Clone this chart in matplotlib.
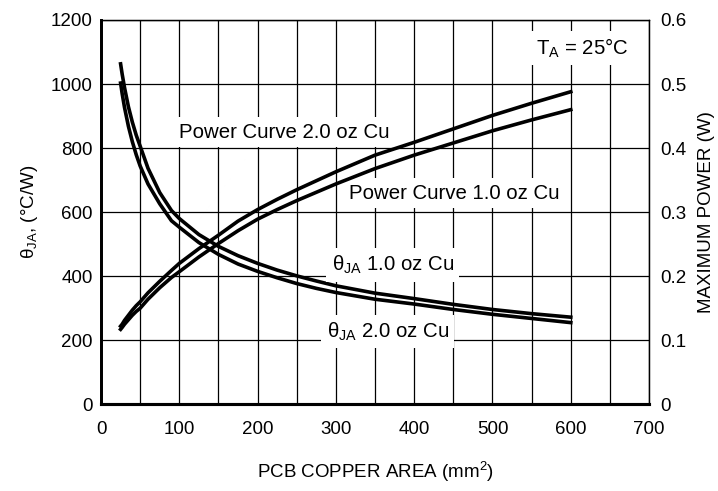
import matplotlib
matplotlib.use("Agg")
from matplotlib import pyplot as plt
import numpy as np

plt.rcParams['font.family'] = ['Liberation Sans', 'DejaVu Sans']
plt.rcParams['mathtext.fontset'] = 'custom'
plt.rcParams['mathtext.rm'] = 'Liberation Sans'

# copper area, mm^2
area = [25, 27, 30, 35, 40, 45, 50, 60, 75, 90, 100, 125, 150, 175, 200, 225, 250, 275, 300, 350, 400, 450, 500, 550, 600]
# thermal resistance, C/W
theta_1oz = [1063, 1031, 989, 929, 881, 840, 806, 737, 661, 605, 580, 530, 493, 464, 440, 419, 401, 385, 370, 347, 330, 312, 296, 283, 272]
theta_2oz = [1003, 970, 927, 868, 820, 779, 744, 688, 626, 573, 553, 505, 468, 438, 415, 395, 377, 362, 349, 328, 313, 296, 281, 268, 255]
# max power, W
power_1oz = [0.117, 0.120, 0.125, 0.132, 0.139, 0.145, 0.150, 0.164, 0.182, 0.198, 0.207, 0.230, 0.251, 0.271, 0.289, 0.304, 0.318, 0.331, 0.344, 0.368, 0.389, 0.408, 0.427, 0.444, 0.460]
power_2oz = [0.122, 0.125, 0.131, 0.139, 0.147, 0.154, 0.160, 0.174, 0.192, 0.209, 0.220, 0.243, 0.264, 0.286, 0.304, 0.320, 0.335, 0.349, 0.363, 0.389, 0.409, 0.430, 0.451, 0.470, 0.488]

x_ticks = [0, 100, 200, 300, 400, 500, 600, 700]
left_ticks = [0, 200, 400, 600, 800, 1000, 1200]
right_ticks = [0, 0.1, 0.2, 0.3, 0.4, 0.5, 0.6]
right_labels = ["0", "0.1", "0.2", "0.3", "0.4", "0.5", "0.6"]

fig = plt.figure(figsize=(7.18, 4.91), dpi=100)
ax = fig.add_axes([0.1407, 0.1766, 0.7633, 0.7827])
ax2 = ax.twinx()

ax.set_xlim(0, 700)
ax.set_ylim(0, 1200)
ax2.set_ylim(0, 0.6)

# grid
ax.set_xticks(np.arange(0, 701, 50), minor=True)
ax.set_xticks(x_ticks)
ax.set_yticks(left_ticks)
ax.grid(True, which='both', axis='x', color='black', lw=0.9)
ax.grid(True, which='major', axis='y', color='black', lw=0.9)
ax.set_axisbelow(True)

ax2.set_yticks(right_ticks)
ax2.set_yticklabels(right_labels)

for a in (ax, ax2):
    a.tick_params(which='both', length=0, labelsize=13.5)
    for s in a.spines.values():
        s.set_linewidth(0.9)
    a.spines['bottom'].set_linewidth(2.2)
    a.spines['left'].set_linewidth(2.0)
ax.tick_params(axis='x', pad=12)
ax.tick_params(axis='y', pad=6)
ax2.tick_params(axis='y', pad=8)

ax.plot(area, theta_1oz, color='black', lw=2.6)
ax.plot(area, theta_2oz, color='black', lw=2.6)
ax2.plot(area, power_1oz, color='black', lw=2.6)
ax2.plot(area, power_2oz, color='black', lw=2.6)

box = dict(facecolor='white', edgecolor='none', pad=4)
fs = 14.7
ax.text(99.6, 849, "Power Curve 2.0 oz Cu", fontsize=fs, va='center', ha='left', bbox=box, zorder=3)
ax.text(317, 659, "Power Curve 1.0 oz Cu", fontsize=fs, va='center', ha='left', bbox=box, zorder=3)
ax.text(294.5, 435, "θ$_{\\rm JA}$ 1.0 oz Cu", fontsize=fs, va='center', ha='left', bbox=box, zorder=3)
ax.text(288, 227, "θ$_{\\rm JA}$ 2.0 oz Cu", fontsize=fs, va='center', ha='left', bbox=box, zorder=3)
ax.text(556, 1112, "T$_{\\rm A}$ = 25°C", fontsize=fs, va='center', ha='left', bbox=box, zorder=3)

ax.set_xlabel("PCB COPPER AREA (mm$^{\\rm 2}$)", fontsize=13.5, labelpad=15)
ax.set_ylabel("θ$_{\\rm JA}$, (°C/W)", fontsize=13.5, labelpad=8)
ax2.set_ylabel("MAXIMUM POWER (W)", fontsize=13.5, labelpad=8)

fig.savefig("out.png", dpi=100)
